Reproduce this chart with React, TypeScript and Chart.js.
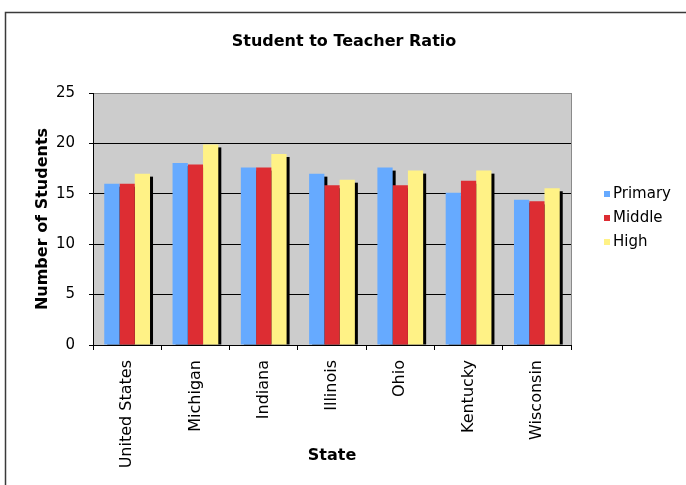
import React, { useEffect, useRef } from 'react';
import { Chart, registerables } from 'chart.js';
Chart.register(...registerables);

const chartTitle = 'Student to Teacher Ratio';
const yAxisTitle = 'Number of Students';
const xAxisTitle = 'State';
const states = ['United States', 'Michigan', 'Indiana', 'Illinois', 'Ohio', 'Kentucky', 'Wisconsin'];
const seriesNames = ['Primary', 'Middle', 'High'];
const primary = [16.0, 18.05, 17.6, 17.0, 17.6, 15.1, 14.4];
const middle = [16.0, 17.9, 17.6, 15.85, 15.85, 16.3, 14.25];
const high = [17.0, 19.9, 18.95, 16.4, 17.3, 17.3, 15.55];
const seriesColors = ['#66aaff', '#dd2d33', '#fff286'];
const yMin = 0;
const yMax = 25;
const yStep = 5;

const FONT = '"DejaVu Sans", Verdana, sans-serif';

const decor = {
  id: 'decor',
  beforeDraw(chart: any) {
    const { ctx, chartArea: a } = chart;
    ctx.save();
    ctx.fillStyle = '#ffffff';
    ctx.fillRect(0, 0, chart.width, chart.height);
    ctx.strokeStyle = '#3a3a3a';
    ctx.lineWidth = 1.5;
    ctx.strokeRect(5.5, 12.5, 720, 520);
    ctx.fillStyle = '#cccccc';
    ctx.fillRect(a.left, a.top, a.right - a.left, a.bottom - a.top);
    ctx.fillStyle = '#000';
    ctx.font = `bold 16px ${FONT}`;
    ctx.textAlign = 'center';
    ctx.textBaseline = 'middle';
    ctx.fillText(chartTitle, 344, 42);
    ctx.restore();
  },
  beforeDatasetsDraw(chart: any) {
    const { ctx } = chart;
    ctx.save();
    ctx.fillStyle = '#000';
    chart.data.datasets.forEach((_: any, i: number) => {
      const meta = chart.getDatasetMeta(i);
      meta.data.forEach((bar: any) => {
        const { x, y, base, width } = bar.getProps(['x', 'y', 'base', 'width'], true);
        const h = base - y - 3;
        if (h > 0) ctx.fillRect(x - width / 2 + 3, y + 3, width, h);
      });
    });
    ctx.restore();
  },
  afterDatasetsDraw(chart: any) {
    const { ctx, chartArea: a } = chart;
    ctx.save();
    ctx.strokeStyle = '#8a8a8a';
    ctx.lineWidth = 1;
    ctx.beginPath();
    ctx.moveTo(Math.round(a.right) + 0.5, a.top);
    ctx.lineTo(Math.round(a.right) + 0.5, a.bottom);
    ctx.stroke();
    ctx.restore();
  },
  afterDraw(chart: any) {
    const { ctx } = chart;
    ctx.save();
    ctx.font = `15px ${FONT}`;
    ctx.textAlign = 'left';
    ctx.textBaseline = 'middle';
    chart.data.datasets.forEach((ds: any, i: number) => {
      const cy = 194 + i * 24;
      ctx.fillStyle = ds.backgroundColor;
      ctx.fillRect(604, cy - 3, 6, 6);
      ctx.fillStyle = '#000';
      ctx.fillText(ds.label, 613, cy);
    });
    ctx.restore();
  },
};

export default function App() {
  const ref = useRef<HTMLCanvasElement>(null);
  useEffect(() => {
    document.body.style.margin = '0';
    const values = [primary, middle, high];
    const chart = new Chart(ref.current as HTMLCanvasElement, {
      type: 'bar',
      data: {
        labels: states,
        datasets: seriesNames.map((name, i) => ({
          label: name,
          data: values[i],
          backgroundColor: seriesColors[i],
          borderWidth: 0,
          categoryPercentage: 0.67,
          barPercentage: 1.0,
        })),
      },
      options: {
        responsive: false,
        animation: false,
        layout: { padding: { left: 30, top: 93, right: 115, bottom: 15 } },
        plugins: {
          legend: { display: false },
          title: { display: false },
          tooltip: { enabled: false },
        },
        scales: {
          x: {
            afterFit: (s: any) => { s.height = 125; },
            grid: {
              offset: true,
              drawOnChartArea: false,
              drawTicks: true,
              tickLength: 5,
              tickColor: '#000',
              color: '#000',
            },
            border: { color: '#000', width: 1 },
            ticks: {
              minRotation: 90,
              maxRotation: 90,
              autoSkip: false,
              padding: 10,
              color: '#000',
              font: { family: FONT, size: 16 },
            },
            title: {
              display: true,
              text: xAxisTitle,
              color: '#000',
              font: { family: FONT, size: 16, weight: 'bold' },
              padding: { top: 0, bottom: 5 },
            },
          },
          y: {
            min: yMin,
            max: yMax,
            afterFit: (s: any) => { s.width = 63; },
            grid: {
              color: (c: any) => (c.tick && c.tick.value === yMax ? '#8a8a8a' : '#000'),
              tickColor: '#000',
              tickLength: 4,
              lineWidth: 1,
            },
            border: { color: '#000', width: 1 },
            ticks: {
              stepSize: yStep,
              padding: 14,
              color: '#000',
              font: { family: FONT, size: 15 },
            },
            title: {
              display: true,
              text: yAxisTitle,
              color: '#000',
              font: { family: FONT, size: 16, weight: 'bold' },
              padding: { top: 3, bottom: 0 },
            },
          },
        },
      },
      plugins: [decor],
    });
    return () => chart.destroy();
  }, []);
  return (
    <div style={{ width: 686, height: 485 }}>
      <canvas ref={ref} width={686} height={485} />
    </div>
  );
}
